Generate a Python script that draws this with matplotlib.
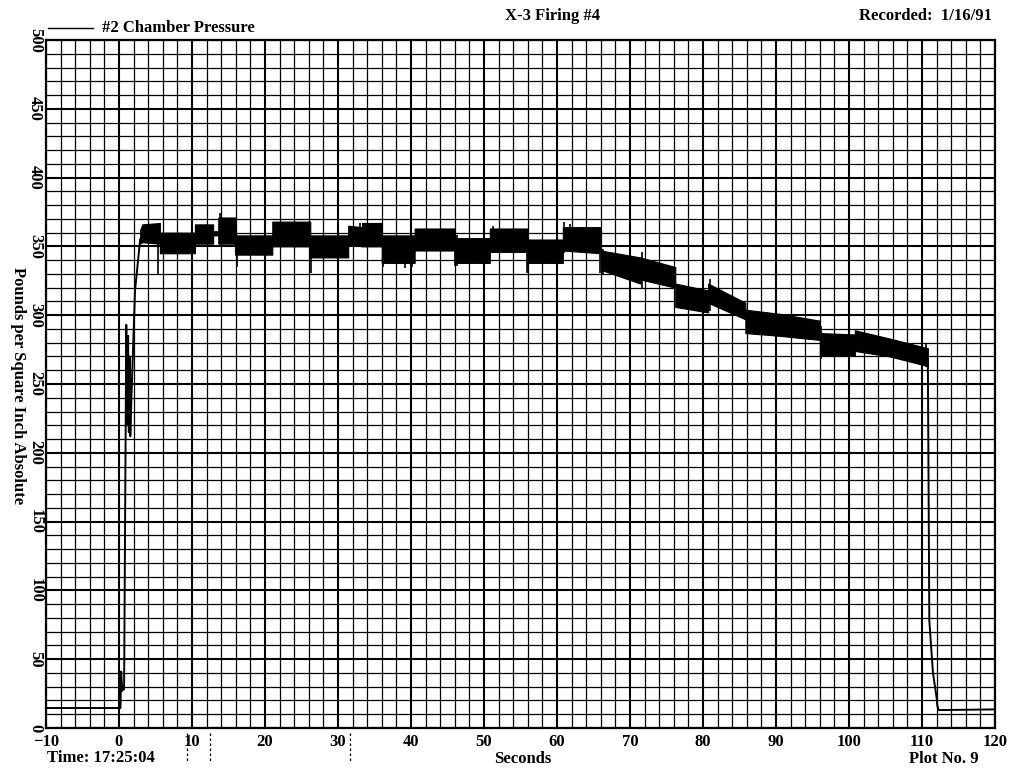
import numpy as np
import matplotlib
matplotlib.use("Agg")
import matplotlib.pyplot as plt
from matplotlib.ticker import MultipleLocator
from matplotlib.transforms import blended_transform_factory

plt.rcParams['font.family'] = ['Liberation Serif', 'DejaVu Serif']

# start-up trace (thin line): seconds, psia
start_t = [-10, 0.2, 0.3, 0.45, 0.55, 0.7, 1.0, 1.1, 1.25, 1.35, 1.45, 1.55, 1.7, 2.2, 2.9]
start_p = [14.5, 14.5, 41, 27, 30, 28, 293, 220, 285, 215, 270, 212, 240, 318, 355]

# noisy firing band: time, lower edge, upper edge
band_t = [2.9, 3.2, 5.6, 5.6, 10.4, 10.4, 12.9, 12.9, 13.6, 13.6, 15.9, 15.9, 21.0, 21.0,
          26.2, 26.2, 31.4, 31.4, 33.3, 33.3, 36.0, 36.0, 40.5, 40.5, 46.0, 46.0, 50.8,
          50.8, 55.9, 55.9, 60.8, 60.8, 66.0, 66.0, 71.4, 71.4, 76.2, 76.2, 80.7, 80.7,
          85.8, 85.8, 90.5, 96.0, 96.0, 100.8, 100.8, 105.6, 110.8]
band_lo = [352, 353, 352, 345, 345, 352, 352, 358, 358, 352, 352, 344, 344, 350,
           350, 342, 342, 352, 350, 350, 350, 338, 338, 347, 347, 338, 338,
           346, 346, 338, 338, 347, 345, 333, 323, 326, 320, 306, 302, 309,
           297, 287, 285, 282, 271, 271, 274, 270, 263]
band_hi = [362, 366, 367, 360, 360, 366, 366, 361, 361, 371, 371, 358, 358, 368,
           368, 358, 358, 365, 364, 367, 367, 358, 358, 363, 363, 356, 356,
           363, 363, 355, 355, 364, 364, 347, 342, 342, 335, 323, 318, 323,
           309, 304, 301, 296, 287, 286, 289, 283, 276]

# single spikes poking out of the band
spike_t = [5.4, 13.8, 16.1, 26.3, 33.0, 36.2, 39.2, 40.1, 46.0, 46.3, 51.2, 55.9,
           56.0, 61.0, 61.8, 65.9, 66.3, 71.6, 81.0, 96.2, 110.6]
spike_lo = [329, 360, 335, 331, 355, 335, 334, 335, 336, 336, 350, 331,
            332, 345, 350, 331, 330, 320, 303, 268, 262]
spike_hi = [362, 374, 352, 352, 367, 355, 356, 352, 350, 358, 365, 350,
            352, 368, 366, 350, 348, 346, 326, 292, 280]

# shutdown trace
end_t = [110.8, 111.0, 111.5, 112.0, 112.1, 112.3, 120]
end_p = [268, 78, 40, 22, 16, 13, 13.5]

# event marks below the time axis
mark_t = [9.3, 12.5, 31.6]

fig = plt.figure(figsize=(10.24, 7.78), dpi=100)
ax = fig.add_axes([0.0449, 0.0643, 0.9268, 0.8843])

ax.set_xlim(-10, 120)
ax.set_ylim(0, 500)
ax.xaxis.set_major_locator(MultipleLocator(10))
ax.xaxis.set_minor_locator(MultipleLocator(2))
ax.yaxis.set_major_locator(MultipleLocator(50))
ax.yaxis.set_minor_locator(MultipleLocator(10))
ax.grid(which='major', color='black', lw=1.5)
ax.grid(which='minor', color='black', lw=0.9)
ax.tick_params(which='both', length=0, pad=4)
ax.tick_params(axis='x', labelsize=12)
ax.tick_params(axis='y', labelsize=12, pad=2)
for lab in ax.get_xticklabels():
    lab.set_fontweight('bold')
for lab in ax.get_yticklabels():
    lab.set_rotation(270)
    lab.set_fontweight('bold')
    lab.set_va('center')
for s in ax.spines.values():
    s.set_linewidth(1.6)

ax.plot(start_t, start_p, color='black', lw=1.4)
ax.fill_between(band_t, band_lo, band_hi, color='black', lw=0.8, edgecolor='black')
ax.vlines(spike_t, spike_lo, spike_hi, color='black', lw=1.2)
ax.plot(end_t, end_p, color='black', lw=1.4)

trans = blended_transform_factory(ax.transData, ax.transAxes)
for t in mark_t:
    ax.plot([t, t], [-0.007, -0.049], color='black', lw=0.9, ls=(0, (2, 2)),
            transform=trans, clip_on=False)

fig.text(0.0176, 0.505, 'Pounds per Square Inch Absolute', rotation=270, fontsize=12,
         fontweight='bold', va='center', ha='center')

fig.add_artist(plt.Line2D([0.047, 0.091], [0.964, 0.964], color='black', lw=1.0))
fig.text(0.100, 0.964, '#2 Chamber Pressure', fontsize=12, fontweight='bold', va='center')
fig.text(0.54, 0.980, 'X-3 Firing #4', fontsize=12, fontweight='bold', va='center', ha='center')
fig.text(0.969, 0.980, 'Recorded:  1/16/91', fontsize=12, fontweight='bold', va='center', ha='right')
fig.text(0.046, 0.026, 'Time: 17:25:04', fontsize=12, fontweight='bold', va='center')
fig.text(0.510, 0.025, 'Seconds', fontsize=12, fontweight='bold', va='center', ha='center')
fig.text(0.956, 0.025, 'Plot No. 9', fontsize=12, fontweight='bold', va='center', ha='right')

fig.savefig('out.png', dpi=100, facecolor='white')
